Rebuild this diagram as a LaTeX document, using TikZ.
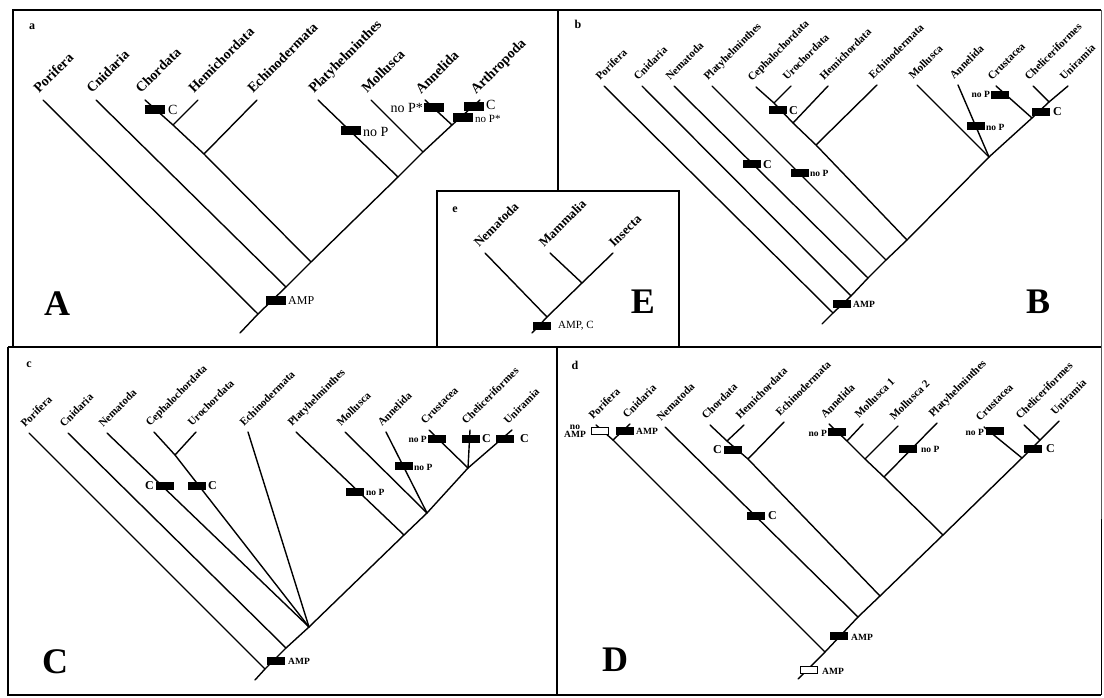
\documentclass[tikz,border=0pt]{standalone}
\usepackage{fontspec}
\setmainfont{Liberation Serif}
\begin{document}
\begin{tikzpicture}[x=1pt,y=-1pt,
  br/.style={line width=1.4pt, line cap=round},
  frm/.style={line width=2.2pt},
  lab/.style={rotate=45, anchor=base west, inner sep=0pt, font=\bfseries\fontsize{11}{11}\selectfont},
  labA/.style={lab, font=\bfseries\fontsize{14}{14}\selectfont},
  labE/.style={lab, font=\bfseries\fontsize{13}{13}\selectfont},
  mk/.style={fill=black, minimum width=18pt, minimum height=8pt, inner sep=0pt},
  mkA/.style={mk, minimum width=20pt, minimum height=9pt},
  omk/.style={draw=black, fill=white, line width=0.9pt, minimum width=17pt, minimum height=7pt, inner sep=0pt},
  mt/.style={inner sep=0pt, font=\bfseries\fontsize{9.5}{9.5}\selectfont},
  mtA/.style={inner sep=0pt, font=\fontsize{14}{14}\selectfont},
  big/.style={inner sep=0pt, font=\bfseries\fontsize{36}{36}\selectfont},
  pl/.style={inner sep=0pt, font=\bfseries\fontsize{12}{12}\selectfont}]

\useasboundingbox (0,0) rectangle (1104,698);
\fill[white] (0,0) rectangle (1104,698);

% ---------- frames ----------
\coordinate (fTL) at (13,10);
\coordinate (fTR) at (1101,10);
\coordinate (fML) at (8,347);
\coordinate (fAL) at (13,347);
\coordinate (fMR) at (1101,347);
\coordinate (fBL) at (8,695);
\coordinate (fBR) at (1101,695);
\coordinate (dvT) at (558,10);
\coordinate (dvB) at (558,191);
\coordinate (eTL) at (437,191);
\coordinate (eBR) at (679,347);
\coordinate (cdT) at (557,347);
\coordinate (cdB) at (557,695);
\draw[frm] (fAL) -- (fTL) -- (fTR);
\draw[line width=1pt] (fTR) -- (fMR) -- (fBR);
\draw[frm] (fML) -- (fMR);
\draw[frm] (fML) -- (fBL) -- (fBR);
\draw[frm] (dvT) -- (dvB);
\draw[frm] (eTL) rectangle (eBR);
\draw[frm] (cdT) -- (cdB);

% ---------- panel a ----------
\coordinate (PorA) at (43,100);
\coordinate (CniA) at (96,100);
\coordinate (ChoA) at (145,100);
\coordinate (HemA) at (198,100);
\coordinate (EchA) at (257,100);
\coordinate (PlaA) at (318,100);
\coordinate (MolA) at (371,100);
\coordinate (AnnA) at (425,100);
\coordinate (ArtA) at (480,100);
\coordinate (jChHeA) at (173,125);
\coordinate (jEcA) at (204,154);
\coordinate (jAnArA) at (452,125);
\coordinate (jMoA) at (423,152);
\coordinate (jPlA) at (398,177);
\coordinate (jPDA) at (311,262);
\coordinate (jCnA) at (286,287);
\coordinate (jPoA) at (258,314);
\coordinate (rootA) at (240,333);
\draw[br] (rootA) -- (jPoA) -- (jCnA) -- (jPDA) -- (jPlA) -- (jMoA) -- (jAnArA) -- (ArtA);
\draw[br] (PorA) -- (jPoA);
\draw[br] (CniA) -- (jCnA);
\draw[br] (ChoA) -- (jChHeA) -- (jEcA) -- (jPDA);
\draw[br] (HemA) -- (jChHeA);
\draw[br] (EchA) -- (jEcA);
\draw[br] (PlaA) -- (jPlA);
\draw[br] (MolA) -- (jMoA);
\draw[br] (AnnA) -- (jAnArA);
\node[labA] (PorA-l) at ([shift={(-4,-6)}]PorA) {Porifera};
\node[labA] (CniA-l) at ([shift={(-4,-6)}]CniA) {Cnidaria};
\node[labA] (ChoA-l) at ([shift={(-4,-6)}]ChoA) {Chordata};
\node[labA] (HemA-l) at ([shift={(-4,-6)}]HemA) {Hemichordata};
\node[labA] (EchA-l) at ([shift={(-4,-6)}]EchA) {Echinodermata};
\node[labA] (PlaA-l) at ([shift={(-4,-6)}]PlaA) {Platyhelminthes};
\node[labA] (MolA-l) at ([shift={(-4,-6)}]MolA) {Mollusca};
\node[labA] (AnnA-l) at ([shift={(-4,-5)}]AnnA) {Annelida};
\node[labA] (ArtA-l) at ([shift={(-4,-5)}]ArtA) {Arthropoda};
\node[mkA] (mA1) at (155,110) {};
\node[mtA, anchor=west] (tA1) at (168,110) {C};
\node[mkA] (mA2) at (351,131) {};
\node[mtA, anchor=west] (tA2) at (363,132) {no P};
\node[mkA] (mA3) at (434,108) {};
\node[mtA, anchor=east] (tA3) at (423,108) {no P*};
\node[mkA] (mA4) at (474,107) {};
\node[mtA, anchor=west] (tA4) at (486,105) {C};
\node[mkA] (mA5) at (463,118) {};
\node[mtA, anchor=west, font=\fontsize{11}{11}\selectfont] (tA5) at (475,119) {no P*};
\node[mkA] (mA6) at (276,300) {};
\node[mtA, anchor=west, font=\fontsize{12}{12}\selectfont] (tA6) at (288,301) {AMP};
\node[pl] (pa) at (32,27) {a};
\node[big] (bigA) at (57,304) {A};

% ---------- panel b ----------
\coordinate (PorB) at (604,86);
\coordinate (CniB) at (642,86);
\coordinate (NemB) at (674,86);
\coordinate (PlaB) at (712,86);
\coordinate (CepB) at (756,87);
\coordinate (UroB) at (791,86);
\coordinate (HemB) at (828,86);
\coordinate (EchB) at (877,85);
\coordinate (MolB) at (917,85);
\coordinate (AnnB) at (958,85);
\coordinate (CruB) at (996,86);
\coordinate (CheB) at (1033,86);
\coordinate (UniB) at (1068,86);
\coordinate (jCUB) at (774,103);
\coordinate (jHeB) at (793,123);
\coordinate (jEcB) at (816,145);
\coordinate (jChB) at (1049,102);
\coordinate (jCrB) at (1032,118);
\coordinate (jMAB) at (989,157);
\coordinate (jDPB) at (907,240);
\coordinate (jPlB) at (886,260);
\coordinate (jNeB) at (868,278);
\coordinate (jCnB) at (851,296);
\coordinate (jPoB) at (833,313);
\coordinate (rootB) at (822,324);
\draw[br] (rootB) -- (jPoB) -- (jCnB) -- (jNeB) -- (jPlB) -- (jDPB) -- (jMAB) -- (jCrB) -- (jChB) -- (UniB);
\draw[br] (PorB) -- (jPoB);
\draw[br] (CniB) -- (jCnB);
\draw[br] (NemB) -- (jNeB);
\draw[br] (PlaB) -- (jPlB);
\draw[br] (CepB) -- (jCUB) -- (jHeB) -- (jEcB) -- (jDPB);
\draw[br] (UroB) -- (jCUB);
\draw[br] (HemB) -- (jHeB);
\draw[br] (EchB) -- (jEcB);
\draw[br] (MolB) -- (jMAB);
\draw[br] (AnnB) -- (jMAB);
\draw[br] (CruB) -- (jCrB);
\draw[br] (CheB) -- (jChB);
\node[lab] (PorB-l) at ([shift={(-4,-5)}]PorB) {Porifera};
\node[lab] (CniB-l) at ([shift={(-4,-5)}]CniB) {Cnidaria};
\node[lab] (NemB-l) at ([shift={(-4,-5)}]NemB) {Nematoda};
\node[lab] (PlaB-l) at ([shift={(-4,-5)}]PlaB) {Platyhelminthes};
\node[lab] (CepB-l) at ([shift={(-4,-5)}]CepB) {Cephalochordata};
\node[lab] (UroB-l) at ([shift={(-4,-5)}]UroB) {Urochordata};
\node[lab] (HemB-l) at ([shift={(-4,-5)}]HemB) {Hemichordata};
\node[lab] (EchB-l) at ([shift={(-4,-5)}]EchB) {Echinodermata};
\node[lab] (MolB-l) at ([shift={(-4,-5)}]MolB) {Mollusca};
\node[lab] (AnnB-l) at ([shift={(-4,-5)}]AnnB) {Annelida};
\node[lab] (CruB-l) at ([shift={(-4,-5)}]CruB) {Crustacea};
\node[lab] (CheB-l) at ([shift={(-4,-5)}]CheB) {Cheliceriformes};
\node[lab] (UniB-l) at ([shift={(-4,-5)}]UniB) {Uniramia};
\node[mk] (mB1) at (778,110) {};
\node[mt, anchor=west, font=\bfseries\fontsize{12}{12}\selectfont] (tB1) at (789,111) {C};
\node[mk] (mB2) at (1000,95) {};
\node[mt, anchor=east] (tB2) at (990,94) {no P};
\node[mk] (mB3) at (976,126) {};
\node[mt, anchor=west] (tB3) at (986,127) {no P};
\node[mk] (mB4) at (1041,112) {};
\node[mt, anchor=west, font=\bfseries\fontsize{12}{12}\selectfont] (tB4) at (1053,112) {C};
\node[mk] (mB5) at (752,164) {};
\node[mt, anchor=west, font=\bfseries\fontsize{12}{12}\selectfont] (tB5) at (763,165) {C};
\node[mk] (mB6) at (800,173) {};
\node[mt, anchor=west] (tB6) at (810,173) {no P};
\node[mk] (mB7) at (842,304) {};
\node[mt, anchor=west] (tB7) at (853,304) {AMP};
\node[pl] (pb) at (578,24) {b};
\node[big] (bigB) at (1038,302) {B};

% ---------- panel e ----------
\coordinate (NemE) at (485,253);
\coordinate (MamE) at (550,253);
\coordinate (InsE) at (613,253);
\coordinate (jMIE) at (582,283);
\coordinate (jNIE) at (547,317);
\coordinate (rootE) at (532,333);
\draw[br] (rootE) -- (jNIE) -- (jMIE) -- (InsE);
\draw[br] (NemE) -- (jNIE);
\draw[br] (MamE) -- (jMIE);
\node[labE] (NemE-l) at ([shift={(-6,-5)}]NemE) {Nematoda};
\node[labE] (MamE-l) at ([shift={(-6,-5)}]MamE) {Mammalia};
\node[labE] (InsE-l) at ([shift={(1,-5)}]InsE) {Insecta};
\node[mk] (mE1) at (542,326) {};
\node[mt, anchor=west, font=\fontsize{11}{11}\selectfont] (tE1) at (558,326) {AMP, C};
\node[pl] (pe) at (455,210) {e};
\node[big] (bigE) at (643,302) {E};

% ---------- panel c ----------
\coordinate (PorC) at (29,433);
\coordinate (CniC) at (68,433);
\coordinate (NemC) at (107,433);
\coordinate (CepC) at (154,432);
\coordinate (UroC) at (196,432);
\coordinate (EchC) at (248,432);
\coordinate (PlaC) at (296,432);
\coordinate (MolC) at (345,432);
\coordinate (AnnC) at (386,432);
\coordinate (CruC) at (429,430);
\coordinate (CheC) at (470,430);
\coordinate (UniC) at (512,430);
\coordinate (jCUC) at (175,455);
\coordinate (jCCC) at (468,468);
\coordinate (jMAC) at (427,513);
\coordinate (jPlC) at (404,535);
\coordinate (jXC) at (309,627);
\coordinate (jCnC) at (286,648);
\coordinate (jPoC) at (265,669);
\coordinate (rootC) at (255,680);
\draw[br] (rootC) -- (jPoC) -- (jCnC) -- (jXC) -- (jPlC) -- (jMAC) -- (jCCC) -- (UniC);
\draw[br] (PorC) -- (jPoC);
\draw[br] (CniC) -- (jCnC);
\draw[br] (NemC) -- (jXC);
\draw[br] (CepC) -- (jCUC) -- (jXC);
\draw[br] (UroC) -- (jCUC);
\draw[br] (EchC) -- (jXC);
\draw[br] (PlaC) -- (jPlC);
\draw[br] (MolC) -- (jMAC);
\draw[br] (AnnC) -- (jMAC);
\draw[br] (CruC) -- (jCCC);
\draw[br] (CheC) -- (jCCC);
\node[lab] (PorC-l) at ([shift={(-4,-5)}]PorC) {Porifera};
\node[lab] (CniC-l) at ([shift={(-4,-5)}]CniC) {Cnidaria};
\node[lab] (NemC-l) at ([shift={(-4,-5)}]NemC) {Nematoda};
\node[lab] (CepC-l) at ([shift={(-4,-5)}]CepC) {Cephalochordata};
\node[lab] (UroC-l) at ([shift={(-4,-5)}]UroC) {Urochordata};
\node[lab] (EchC-l) at ([shift={(-4,-5)}]EchC) {Echinodermata};
\node[lab] (PlaC-l) at ([shift={(-4,-5)}]PlaC) {Platyhelminthes};
\node[lab] (MolC-l) at ([shift={(-4,-5)}]MolC) {Mollusca};
\node[lab] (AnnC-l) at ([shift={(-4,-5)}]AnnC) {Annelida};
\node[lab] (CruC-l) at ([shift={(-4,-5)}]CruC) {Crustacea};
\node[lab] (CheC-l) at ([shift={(-4,-5)}]CheC) {Cheliceriformes};
\node[lab] (UniC-l) at ([shift={(-4,-5)}]UniC) {Uniramia};
\node[mk] (mC1) at (165,486) {};
\node[mt, anchor=east, font=\bfseries\fontsize{12}{12}\selectfont] (tC1) at (154,486) {C};
\node[mk] (mC2) at (197,486) {};
\node[mt, anchor=west, font=\bfseries\fontsize{12}{12}\selectfont] (tC2) at (208,486) {C};
\node[mk] (mC3) at (355,492) {};
\node[mt, anchor=west] (tC3) at (366,492) {no P};
\node[mk] (mC4) at (404,466) {};
\node[mt, anchor=west] (tC4) at (414,467) {no P};
\node[mk] (mC5) at (437,439) {};
\node[mt, anchor=east] (tC5) at (427,439) {no P};
\node[mk] (mC6) at (471,439) {};
\node[mt, anchor=west, font=\bfseries\fontsize{12}{12}\selectfont] (tC6) at (482,439) {C};
\node[mk] (mC7) at (505,439) {};
\node[mt, anchor=west, font=\bfseries\fontsize{12}{12}\selectfont] (tC7) at (520,439) {C};
\node[mk] (mC8) at (276,661) {};
\node[mt, anchor=west] (tC8) at (288,661) {AMP};
\node[pl] (pc) at (29,365) {c};
\node[big] (bigC) at (55,662) {C};

% ---------- panel d ----------
\coordinate (PorD) at (596,425);
\coordinate (CniD) at (630,424);
\coordinate (NemD) at (665,427);
\coordinate (ChoD) at (710,425);
\coordinate (HemD) at (744,425);
\coordinate (EchD) at (784,422);
\coordinate (AnnD) at (829,424);
\coordinate (Mo1D) at (863,424);
\coordinate (Mo2D) at (898,426);
\coordinate (PlaD) at (937,423);
\coordinate (CruD) at (984,427);
\coordinate (CheD) at (1024,425);
\coordinate (UniD) at (1059,421);
\coordinate (jPCaD) at (613,440);
\coordinate (jCHD) at (727,441);
\coordinate (jEcD) at (748,459);
\coordinate (jAMD) at (847,441);
\coordinate (jM2D) at (865,459);
\coordinate (jPlD) at (884,477);
\coordinate (jChD) at (1040,440);
\coordinate (jCrD) at (1022,458);
\coordinate (jPrD) at (943,535);
\coordinate (jDeD) at (880,596);
\coordinate (jNeD) at (858,617);
\coordinate (jPCD) at (825,652);
\coordinate (rootD) at (798,679);
\draw[br] (rootD) -- (jPCD) -- (jNeD) -- (jDeD) -- (jPrD) -- (jCrD) -- (jChD) -- (UniD);
\draw[br] (PorD) -- (jPCaD);
\draw[br] (CniD) -- (jPCaD) -- (jPCD);
\draw[br] (NemD) -- (jNeD);
\draw[br] (ChoD) -- (jCHD) -- (jEcD) -- (jDeD);
\draw[br] (HemD) -- (jCHD);
\draw[br] (EchD) -- (jEcD);
\draw[br] (AnnD) -- (jAMD) -- (jM2D) -- (jPlD) -- (jPrD);
\draw[br] (Mo1D) -- (jAMD);
\draw[br] (Mo2D) -- (jM2D);
\draw[br] (PlaD) -- (jPlD);
\draw[br] (CruD) -- (jCrD);
\draw[br] (CheD) -- (jChD);
\node[lab] (PorD-l) at ([shift={(-3,-5)}]PorD) {Porifera};
\node[lab] (CniD-l) at ([shift={(-3,-5)}]CniD) {Cnidaria};
\node[lab] (NemD-l) at ([shift={(-4,-5)}]NemD) {Nematoda};
\node[lab] (ChoD-l) at ([shift={(-4,-5)}]ChoD) {Chordata};
\node[lab] (HemD-l) at ([shift={(-4,-5)}]HemD) {Hemichordata};
\node[lab] (EchD-l) at ([shift={(-4,-5)}]EchD) {Echinodermata};
\node[lab] (AnnD-l) at ([shift={(-4,-5)}]AnnD) {Annelida};
\node[lab] (Mo1D-l) at ([shift={(-4,-5)}]Mo1D) {Mollusca 1};
\node[lab] (Mo2D-l) at ([shift={(-4,-5)}]Mo2D) {Mollusca 2};
\node[lab] (PlaD-l) at ([shift={(-4,-5)}]PlaD) {Platyhelminthes};
\node[lab] (CruD-l) at ([shift={(-4,-5)}]CruD) {Crustacea};
\node[lab] (CheD-l) at ([shift={(-4,-5)}]CheD) {Cheliceriformes};
\node[lab] (UniD-l) at ([shift={(-4,-5)}]UniD) {Uniramia};
\node[omk] (mD0) at (600,431) {};
\node[mt, align=center, font=\bfseries\fontsize{9.5}{8}\selectfont] (tD0) at (575,431) {no\\AMP};
\node[mk] (mD1) at (625,431) {};
\node[mt, anchor=west] (tD1) at (636,431) {AMP};
\node[mk] (mD2) at (733,450) {};
\node[mt, anchor=east, font=\bfseries\fontsize{12}{12}\selectfont] (tD2) at (722,450) {C};
\node[mk] (mD3) at (837,432) {};
\node[mt, anchor=east] (tD3) at (827,433) {no P};
\node[mk] (mD4) at (908,449) {};
\node[mt, anchor=west] (tD4) at (921,449) {no P};
\node[mk] (mD5) at (995,431) {};
\node[mt, anchor=east] (tD5) at (984,432) {no P};
\node[mk] (mD6) at (1033,449) {};
\node[mt, anchor=west, font=\bfseries\fontsize{12}{12}\selectfont] (tD6) at (1046,449) {C};
\node[mk] (mD7) at (756,516) {};
\node[mt, anchor=west, font=\bfseries\fontsize{12}{12}\selectfont] (tD7) at (768,516) {C};
\node[mk] (mD8) at (839,636) {};
\node[mt, anchor=west] (tD8) at (851,637) {AMP};
\node[omk] (mD9) at (809,670) {};
\node[mt, anchor=west] (tD9) at (822,671) {AMP};
\node[pl] (pd) at (575,365) {d};
\node[big] (bigD) at (615,660) {D};
\end{tikzpicture}
\end{document}
